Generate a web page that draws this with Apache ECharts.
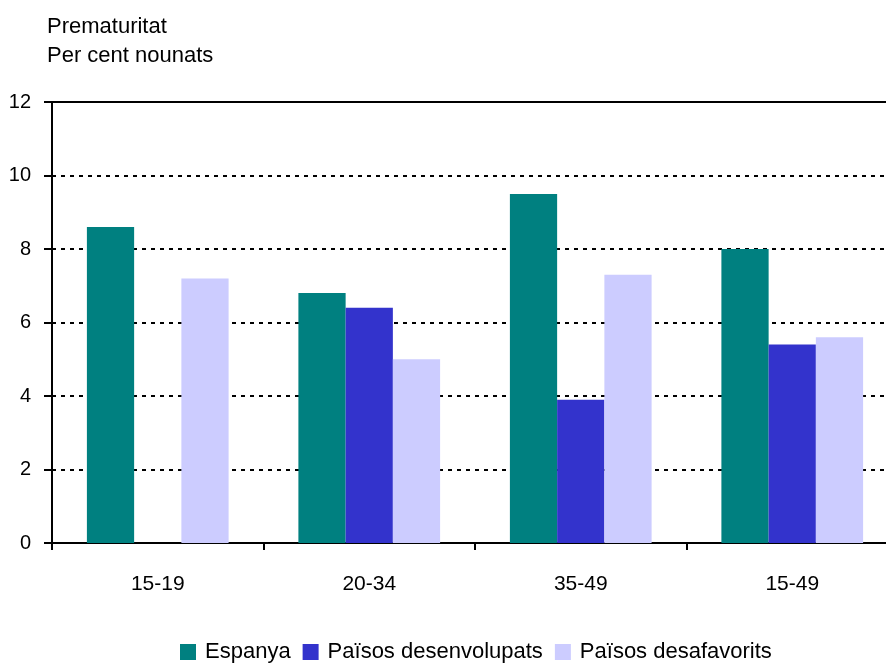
<!DOCTYPE html>
<html>
<head>
<meta charset="utf-8">
<script src="https://cdn.jsdelivr.net/npm/echarts@6/dist/echarts.min.js"></script>
<style>
  html, body { margin: 0; padding: 0; background: #fff; }
  #chart { width: 886px; height: 668px; }
</style>
</head>
<body>
<div id="chart"></div>
<script>
// Age groups of the mother
const categories = ['15-19', '20-34', '35-49', '15-49'];

// Premature births, per cent of newborns
const espanya = [8.6, 6.8, 9.5, 8.0];
const paisosDesenvolupats = [null, 6.4, 3.9, 5.4];
const paisosDesafavorits = [7.2, 5.0, 7.3, 5.6];

const seriesNames = ['Espanya', 'Països desenvolupats', 'Països desafavorits'];
const seriesColors = ['#008080', '#3333CC', '#CCCCFF'];

const yTicks = { min: 0, max: 12, interval: 2 };

const FONT = '"Liberation Sans", Arial, sans-serif';

const chart = echarts.init(document.getElementById('chart'), null, { renderer: 'canvas' });

const barSeries = [espanya, paisosDesenvolupats, paisosDesafavorits].map((data, i) => ({
  name: seriesNames[i],
  type: 'bar',
  data: data.map(v => (v === null ? '-' : v)),
  itemStyle: { color: seriesColors[i] },
  barGap: '0%',
  barCategoryGap: '33%',
  xAxisIndex: 0,
  yAxisIndex: 0,
  z: 2
}));

chart.setOption({
  animation: false,
  backgroundColor: '#ffffff',
  textStyle: { fontFamily: FONT, color: '#000' },
  title: {
    text: 'Prematuritat\nPer cent nounats',
    left: 47,
    top: 12,
    padding: 0,
    textStyle: {
      fontFamily: FONT,
      fontSize: 22,
      fontWeight: 'normal',
      color: '#000',
      lineHeight: 29
    }
  },
  legend: {
    data: seriesNames,
    left: 180,
    top: 641,
    padding: 0,
    itemWidth: 16,
    itemHeight: 16,
    itemGap: 12,
    icon: 'rect',
    textStyle: {
      fontFamily: FONT,
      fontSize: 22,
      color: '#000',
      padding: [0, 0, 0, 4]
    }
  },
  grid: {
    left: 52,
    top: 102,
    width: 846,
    height: 441,
    containLabel: false,
    outerBoundsMode: 'none'
  },
  xAxis: [
    {
      type: 'category',
      data: categories,
      position: 'bottom',
      axisLine: { lineStyle: { color: '#000', width: 2 } },
      axisTick: { show: true, length: 7, lineStyle: { color: '#000', width: 2 } },
      axisLabel: {
        fontFamily: FONT,
        fontSize: 21,
        color: '#000',
        margin: 31
      },
      splitLine: { show: false }
    },
    {
      // frame line along the top of the plot
      type: 'category',
      data: categories,
      position: 'top',
      axisLine: { lineStyle: { color: '#000', width: 2 } },
      axisTick: { show: false },
      axisLabel: { show: false },
      splitLine: { show: false }
    }
  ],
  yAxis: {
    type: 'value',
    min: yTicks.min,
    max: yTicks.max,
    interval: yTicks.interval,
    axisLine: { show: true, lineStyle: { color: '#000', width: 2 } },
    axisTick: { show: true, length: 8, lineStyle: { color: '#000', width: 2 } },
    axisLabel: {
      fontFamily: FONT,
      fontSize: 20,
      color: '#000',
      margin: 21
    },
    splitLine: {
      show: true,
      lineStyle: { color: '#000', width: 2, type: [4, 5] }
    }
  },
  series: barSeries
});
</script>
</body>
</html>
